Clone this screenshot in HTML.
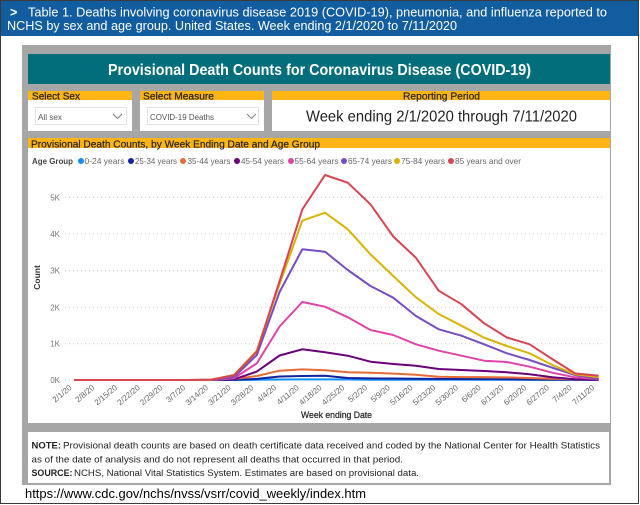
<!DOCTYPE html>
<html><head><meta charset="utf-8"><style>
html,body{margin:0;padding:0;background:#fff;}
svg{display:block;font-family:"Liberation Sans",Arial,sans-serif;}
</style></head><body>
<svg width="640" height="505" viewBox="0 0 640 505" xmlns="http://www.w3.org/2000/svg">
<rect x="0" y="0" width="640" height="505" fill="#fff"/>
<rect x="0.5" y="0.5" width="638" height="503" fill="none" stroke="#3a3a3a" stroke-width="1"/>
<!-- header -->
<rect x="1" y="1" width="637" height="35" fill="#125d9f"/>
<text x="10" y="16.7" font-size="12.5" font-weight="bold" fill="#fff">&gt;</text>
<text x="28" y="16.7" font-size="12.5" fill="#fff" textLength="579" lengthAdjust="spacingAndGlyphs">Table 1. Deaths involving coronavirus disease 2019 (COVID-19), pneumonia, and influenza reported to</text>
<text x="7" y="30" font-size="12.5" fill="#fff" textLength="450" lengthAdjust="spacingAndGlyphs">NCHS by sex and age group. United States. Week ending 2/1/2020 to 7/11/2020</text>
<!-- gray panel -->
<rect x="22" y="45" width="589" height="440" fill="#a6a6a6"/>
<rect x="28" y="54" width="582" height="30" fill="#026e7b"/>
<text x="108" y="75" font-size="16" font-weight="bold" fill="#fff" textLength="423" lengthAdjust="spacingAndGlyphs">Provisional Death Counts for Coronavirus Disease (COVID-19)</text>
<!-- selectors -->
<rect x="28" y="91" width="104" height="9" fill="#fdb515"/>
<rect x="28" y="100" width="104" height="31" fill="#fff"/>
<rect x="140" y="91" width="124" height="9" fill="#fdb515"/>
<rect x="140" y="100" width="124" height="31" fill="#fff"/>
<rect x="272" y="91" width="338" height="9" fill="#fdb515"/>
<rect x="272" y="100" width="338" height="31" fill="#fff"/>
<text x="32" y="99.5" font-size="10" fill="#252423" stroke="#252423" stroke-width="0.25" textLength="48" lengthAdjust="spacingAndGlyphs">Select Sex</text>
<text x="143" y="99.5" font-size="10" fill="#252423" stroke="#252423" stroke-width="0.25" textLength="71" lengthAdjust="spacingAndGlyphs">Select Measure</text>
<text x="403" y="99.5" font-size="10" fill="#252423" stroke="#252423" stroke-width="0.2" textLength="77" lengthAdjust="spacingAndGlyphs">Reporting Period</text>
<rect x="35.5" y="107.5" width="91" height="17" fill="#fff" stroke="#e4e4e4"/>
<text x="38" y="120" font-size="8" fill="#555" textLength="24" lengthAdjust="spacingAndGlyphs">All sex</text>
<polyline points="113,114 117.5,118.5 122,114" fill="none" stroke="#777" stroke-width="0.9"/>
<rect x="147.5" y="107.5" width="111" height="17" fill="#fff" stroke="#e4e4e4"/>
<text x="150" y="120" font-size="8" fill="#555" textLength="64" lengthAdjust="spacingAndGlyphs">COVID-19 Deaths</text>
<polyline points="247,114 251.5,118.5 256,114" fill="none" stroke="#777" stroke-width="0.9"/>
<text x="306" y="121.7" font-size="16" fill="#222" textLength="271" lengthAdjust="spacingAndGlyphs">Week ending 2/1/2020 through 7/11/2020</text>
<!-- chart box -->
<rect x="28" y="138" width="582" height="10" fill="#fdb515"/>
<rect x="28" y="148" width="582" height="275" fill="#fff"/>
<text x="31" y="147.3" font-size="10" fill="#252423" stroke="#252423" stroke-width="0.2" textLength="289" lengthAdjust="spacingAndGlyphs">Provisional Death Counts, by Week Ending Date and Age Group</text>
<!-- legend -->
<text x="32" y="164" font-size="8.5" font-weight="bold" fill="#444" textLength="41" lengthAdjust="spacingAndGlyphs">Age Group</text>
<g font-size="8.5" fill="#666">
<circle cx="81" cy="161" r="3" fill="#118DFF"/><text x="84.5" y="164" textLength="40" lengthAdjust="spacingAndGlyphs">0-24 years</text>
<circle cx="131" cy="161" r="3" fill="#12239E"/><text x="135" y="164" textLength="42" lengthAdjust="spacingAndGlyphs">25-34 years</text>
<circle cx="183" cy="161" r="3" fill="#E66C37"/><text x="187.5" y="164" textLength="43" lengthAdjust="spacingAndGlyphs">35-44 years</text>
<circle cx="237" cy="161" r="3" fill="#6B007B"/><text x="241" y="164" textLength="43" lengthAdjust="spacingAndGlyphs">45-54 years</text>
<circle cx="291" cy="161" r="3" fill="#E044A7"/><text x="294.5" y="164" textLength="44" lengthAdjust="spacingAndGlyphs">55-64 years</text>
<circle cx="344" cy="161" r="3" fill="#744EC2"/><text x="348" y="164" textLength="44" lengthAdjust="spacingAndGlyphs">65-74 years</text>
<circle cx="397" cy="161" r="3" fill="#D9B300"/><text x="401" y="164" textLength="44" lengthAdjust="spacingAndGlyphs">75-84 years</text>
<circle cx="451" cy="161" r="3" fill="#D64550"/><text x="455" y="164" textLength="66" lengthAdjust="spacingAndGlyphs">85 years and over</text>
</g>
<!-- gridlines -->
<g stroke="#c8c8c8" stroke-width="1" stroke-dasharray="1,3">
<line x1="65" y1="197.3" x2="603" y2="197.3"/>
<line x1="65" y1="234" x2="603" y2="234"/>
<line x1="65" y1="270.7" x2="603" y2="270.7"/>
<line x1="65" y1="307.3" x2="603" y2="307.3"/>
<line x1="65" y1="343.7" x2="603" y2="343.7"/>
<line x1="65" y1="380" x2="603" y2="380"/>
</g>
<g font-size="8" fill="#777" text-anchor="end">
<text x="60" y="200.3">5K</text>
<text x="60" y="237">4K</text>
<text x="60" y="273.7">3K</text>
<text x="60" y="310.3">2K</text>
<text x="60" y="346.7">1K</text>
<text x="60" y="383">0K</text>
</g>
<text transform="translate(40,277.5) rotate(-90)" text-anchor="middle" font-size="8.5" font-weight="bold" fill="#333">Count</text>
<!-- x labels -->
<g font-size="8" fill="#666" text-anchor="end">
<text transform="translate(72.3,388.5) rotate(-40)">2/1/20</text>
<text transform="translate(95.03,388.5) rotate(-40)">2/8/20</text>
<text transform="translate(117.76,388.5) rotate(-40)">2/15/20</text>
<text transform="translate(140.49,388.5) rotate(-40)">2/22/20</text>
<text transform="translate(163.22,388.5) rotate(-40)">2/29/20</text>
<text transform="translate(185.95,388.5) rotate(-40)">3/7/20</text>
<text transform="translate(208.68,388.5) rotate(-40)">3/14/20</text>
<text transform="translate(231.41,388.5) rotate(-40)">3/21/20</text>
<text transform="translate(254.14,388.5) rotate(-40)">3/28/20</text>
<text transform="translate(276.87,388.5) rotate(-40)">4/4/20</text>
<text transform="translate(299.6,388.5) rotate(-40)">4/11/20</text>
<text transform="translate(322.33,388.5) rotate(-40)">4/18/20</text>
<text transform="translate(345.06,388.5) rotate(-40)">4/25/20</text>
<text transform="translate(367.79,388.5) rotate(-40)">5/2/20</text>
<text transform="translate(390.52,388.5) rotate(-40)">5/9/20</text>
<text transform="translate(413.25,388.5) rotate(-40)">5/16/20</text>
<text transform="translate(435.98,388.5) rotate(-40)">5/23/20</text>
<text transform="translate(458.71,388.5) rotate(-40)">5/30/20</text>
<text transform="translate(481.44,388.5) rotate(-40)">6/6/20</text>
<text transform="translate(504.17,388.5) rotate(-40)">6/13/20</text>
<text transform="translate(526.9,388.5) rotate(-40)">6/20/20</text>
<text transform="translate(549.63,388.5) rotate(-40)">6/27/20</text>
<text transform="translate(572.36,388.5) rotate(-40)">7/4/20</text>
<text transform="translate(595.09,388.5) rotate(-40)">7/11/20</text>
</g>
<text x="336.5" y="418" text-anchor="middle" font-size="9" fill="#333" stroke="#333" stroke-width="0.3" textLength="71" lengthAdjust="spacingAndGlyphs">Week ending Date</text>
<!-- series -->
<g fill="none" stroke-width="2" stroke-linejoin="round" stroke-linecap="round">
<polyline stroke="#118DFF" points="75,380 97.73,380 120.46,380 143.19,380 165.92,380 188.65,380 211.38,380 234.11,380 256.84,379.8 279.57,379.5 302.3,379.4 325.03,379.4 347.76,379.5 370.49,379.7 393.22,379.8 415.95,379.8 438.68,379.8 461.41,379.8 484.14,379.8 506.87,379.8 529.6,379.9 552.33,379.9 575.06,379.9 597.79,379.9"/>
<polyline stroke="#12239E" points="75,380 97.73,380 120.46,380 143.19,380 165.92,380 188.65,380 211.38,380 234.11,379.8 256.84,378.9 279.57,376.5 302.3,376 325.03,375.8 347.76,378 370.49,378.4 393.22,378.5 415.95,378.7 438.68,378.9 461.41,379 484.14,379.1 506.87,379.3 529.6,379.5 552.33,379.6 575.06,379.8 597.79,379.9"/>
<polyline stroke="#E66C37" points="75,380 97.73,380 120.46,380 143.19,380 165.92,380 188.65,380 211.38,380 234.11,379 256.84,376 279.57,370.7 302.3,369.4 325.03,370.3 347.76,372.3 370.49,372.7 393.22,373.6 415.95,374.7 438.68,376.7 461.41,377.1 484.14,377.1 506.87,377.4 529.6,378 552.33,378.7 575.06,379.3 597.79,379.6"/>
<polyline stroke="#6B007B" points="75,380 97.73,380 120.46,380 143.19,380 165.92,380 188.65,380 211.38,380 234.11,379.3 256.84,371.6 279.57,355.5 302.3,349.3 325.03,352.3 347.76,355.7 370.49,361.7 393.22,364 415.95,365.7 438.68,369 461.41,370 484.14,371 506.87,372.3 529.6,374.3 552.33,377.3 575.06,379.3 597.79,379.6"/>
<polyline stroke="#E044A7" points="75,380 97.73,380 120.46,380 143.19,380 165.92,380 188.65,380 211.38,380 234.11,378.2 256.84,363.3 279.57,326.5 302.3,302 325.03,306.7 347.76,317.3 370.49,330 393.22,335 415.95,344.3 438.68,350.7 461.41,355.7 484.14,360.7 506.87,362 529.6,366.7 552.33,372.7 575.06,377.3 597.79,379"/>
<polyline stroke="#744EC2" points="75,380 97.73,380 120.46,380 143.19,380 165.92,380 188.65,380 211.38,379.8 234.11,377 256.84,355 279.57,292 302.3,249.3 325.03,251.7 347.76,270 370.49,286 393.22,297.7 415.95,316 438.68,329.3 461.41,335.7 484.14,344.3 506.87,353.3 529.6,360 552.33,367.7 575.06,375 597.79,378.3"/>
<polyline stroke="#D9B300" points="75,380 97.73,380 120.46,380 143.19,380 165.92,380 188.65,380 211.38,379.6 234.11,374.9 256.84,350.7 279.57,284 302.3,220.7 325.03,212.7 347.76,229.3 370.49,254.3 393.22,276 415.95,297.3 438.68,314 461.41,325.7 484.14,337.7 506.87,346 529.6,353.3 552.33,365 575.06,374.3 597.79,377"/>
<polyline stroke="#D64550" points="75,380 97.73,380 120.46,380 143.19,380 165.92,380 188.65,380 211.38,379.6 234.11,375.2 256.84,351.6 279.57,281.2 302.3,209.4 325.03,175 347.76,182.7 370.49,204.3 393.22,236.5 415.95,257.8 438.68,290.7 461.41,304.2 484.14,323.3 506.87,337.5 529.6,344.3 552.33,359.1 575.06,373.4 597.79,375.6"/>
</g>
<!-- note -->
<rect x="28" y="432" width="581" height="51" fill="#fff"/>
<g font-size="9.5" fill="#222">
<text x="31.5" y="448.5" font-weight="bold" textLength="29.5" lengthAdjust="spacingAndGlyphs">NOTE:</text>
<text x="63" y="448.5" textLength="537" lengthAdjust="spacingAndGlyphs">Provisional death counts are based on death certificate data received and coded by the National Center for Health Statistics</text>
<text x="31.5" y="462.3" textLength="371.5" lengthAdjust="spacingAndGlyphs">as of the date of analysis and do not represent all deaths that occurred in that period.</text>
<text x="31.5" y="476.2" font-weight="bold" textLength="41" lengthAdjust="spacingAndGlyphs">SOURCE:</text>
<text x="74" y="476.2" textLength="345" lengthAdjust="spacingAndGlyphs">NCHS, National Vital Statistics System. Estimates are based on provisional data.</text>
</g>
<text x="25" y="498" font-size="13" fill="#000" textLength="341" lengthAdjust="spacingAndGlyphs">https://www.cdc.gov/nchs/nvss/vsrr/covid_weekly/index.htm</text>
</svg>
</body></html>
